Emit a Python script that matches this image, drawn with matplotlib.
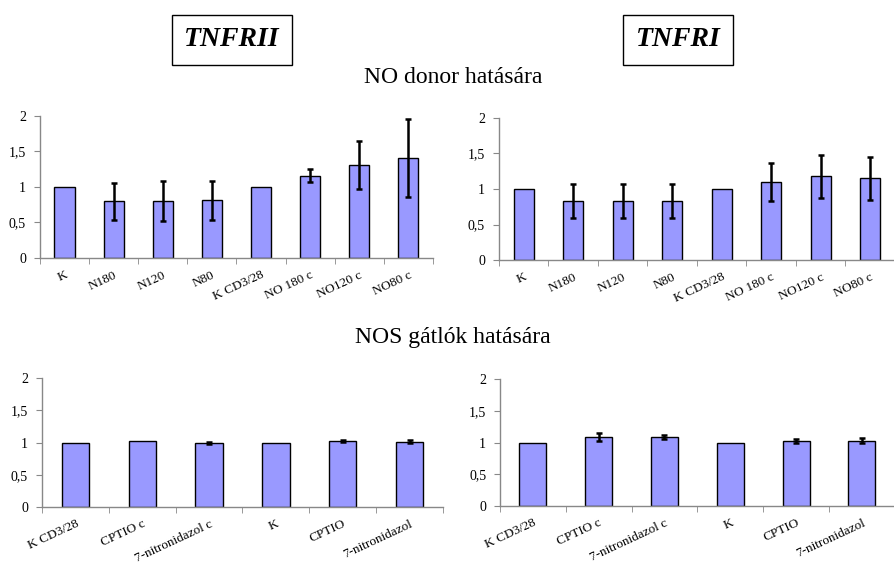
import matplotlib
matplotlib.use('Agg')
import matplotlib.pyplot as plt
import numpy as np

plt.rcParams['font.family'] = ['Liberation Serif', 'DejaVu Serif']

# NO donor panel
donor_labels = ['K', 'N180', 'N120', 'N80', 'K CD3/28', 'NO 180 c', 'NO120 c', 'NO80 c']
tnfrii_donor = [1.0, 0.80, 0.80, 0.81, 1.0, 1.16, 1.31, 1.41]
tnfrii_donor_err = [0, 0.26, 0.28, 0.28, 0, 0.09, 0.34, 0.55]
tnfri_donor = [1.0, 0.83, 0.83, 0.83, 1.0, 1.10, 1.18, 1.15]
tnfri_donor_err = [0, 0.235, 0.24, 0.24, 0, 0.265, 0.30, 0.30]

# NOS inhibitor panel
nos_labels = ['K CD3/28', 'CPTIO c', '7-nitronidazol c', 'K', 'CPTIO', '7-nitronidazol']
tnfrii_nos = [1.0, 1.03, 0.99, 1.0, 1.02, 1.015]
tnfrii_nos_err = [0, 0, 0.02, 0, 0.015, 0.025]
tnfri_nos = [1.0, 1.09, 1.09, 1.0, 1.03, 1.03]
tnfri_nos_err = [0, 0.06, 0.035, 0, 0.03, 0.04]

yticks = [0, 0.5, 1, 1.5, 2]
yticklabels = ['0', '0,5', '1', '1,5', '2']

BAR = '#9999ff'
AXC = '#888888'


def _bar_panel(ax, labels, vals, errs):
    x = np.arange(len(labels))
    vals = np.asarray(vals)
    errs = np.asarray(errs)
    ax.bar(x, vals, width=0.41, color=BAR, edgecolor='black', linewidth=1.0, zorder=2)
    # only bars that have a spread get an error bar
    m = errs > 0
    ax.errorbar(x[m], vals[m], yerr=errs[m], fmt='none', ecolor='black',
                elinewidth=1.8, capsize=2.5, capthick=1.8, zorder=3)
    ax.set_xlim(-0.5, len(labels) - 0.5)
    ax.set_ylim(0, 2)
    ax.set_yticks(yticks)
    ax.set_yticklabels(yticklabels, fontsize=10)
    ax.set_xticks(x)
    ax.set_xticklabels(labels, rotation=25, ha='right', rotation_mode='anchor', fontsize=9.5)
    ax.tick_params(axis='x', length=0, pad=8)
    # category boundary ticks
    ax.set_xticks(np.arange(len(labels) + 1) - 0.5, minor=True)
    ax.tick_params(axis='x', which='minor', length=4, color=AXC, direction='out')
    ax.tick_params(axis='y', length=4, color=AXC, direction='out', pad=6)
    for s in ['top', 'right']:
        ax.spines[s].set_visible(False)
    for s in ['left', 'bottom']:
        ax.spines[s].set_color(AXC)
        ax.spines[s].set_linewidth(1.0)


fig = plt.figure(figsize=(8.95, 5.64), dpi=100)

ax1 = fig.add_axes([0.0447, 0.5426, 0.439, 0.2518])
_bar_panel(ax1, donor_labels, tnfrii_donor, tnfrii_donor_err)
ax2 = fig.add_axes([0.5575, 0.539, 0.4425, 0.2518])
_bar_panel(ax2, donor_labels, tnfri_donor, tnfri_donor_err)
ax3 = fig.add_axes([0.0469, 0.101, 0.448, 0.2287])
_bar_panel(ax3, nos_labels, tnfrii_nos, tnfrii_nos_err)
ax4 = fig.add_axes([0.5587, 0.1028, 0.441, 0.225])
_bar_panel(ax4, nos_labels, tnfri_nos, tnfri_nos_err)

box = dict(boxstyle='square,pad=0.45', facecolor='white', edgecolor='black', linewidth=1.0)
fig.text(232 / 895, 1 - 40 / 564, 'TNFRII', ha='center', va='center', fontsize=20,
         fontweight='bold', style='italic', bbox=box)
fig.text(678 / 895, 1 - 40 / 564, 'TNFRI', ha='center', va='center', fontsize=20,
         fontweight='bold', style='italic', bbox=box)
fig.text(453 / 895, 1 - 77 / 564, 'NO donor hatására', ha='center', va='center', fontsize=17)
fig.text(453 / 895, 1 - 338 / 564, 'NOS gátlók hatására', ha='center', va='center', fontsize=17)

fig.savefig('out.png', dpi=100)
